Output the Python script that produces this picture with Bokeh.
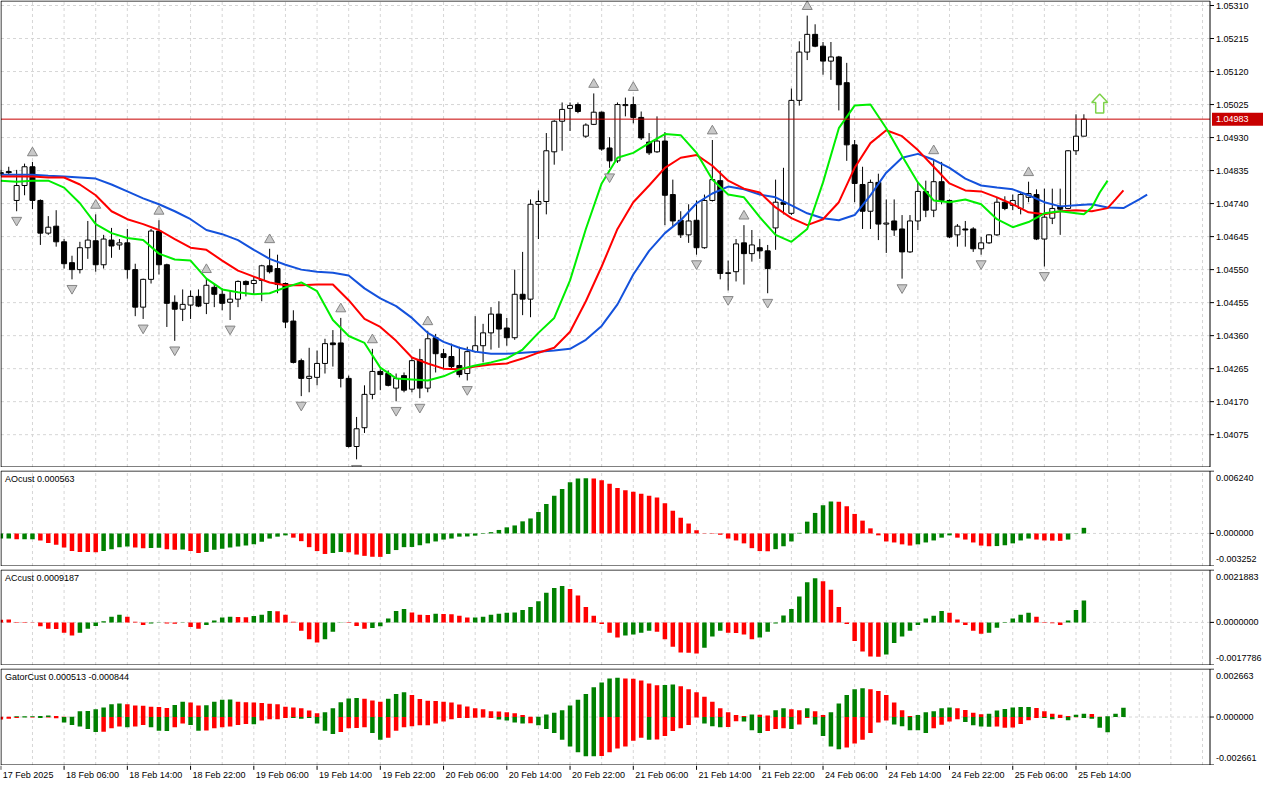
from bokeh.plotting import figure
from bokeh.layouts import column
from bokeh.models import Range1d
from bokeh.embed import file_html
from bokeh.resources import INLINE
from bokeh.core.properties import value

FONT = "Liberation Sans"
FS = "9px"

# ---------------- price data (EURUSD H1, bar 0 = 17 Feb 22:00) ----------------
open_ = [1.04829, 1.04832, 1.04749, 1.04792, 1.04846, 1.04749, 1.04655, 1.04675, 1.04630, 1.04570,
         1.04550, 1.04613, 1.04633, 1.04564, 1.04635, 1.04621, 1.04627, 1.04550, 1.04442, 1.04522,
         1.04661, 1.04564, 1.04456, 1.04436, 1.04448, 1.04473, 1.04453, 1.04499, 1.04479, 1.04456,
         1.04465, 1.04516, 1.04510, 1.04519, 1.04561, 1.04553, 1.04510, 1.04402, 1.04288, 1.04237,
         1.04240, 1.04280, 1.04339, 1.04339, 1.04237, 1.04041, 1.04095, 1.04191, 1.04257, 1.04251,
         1.04209, 1.04245, 1.04206, 1.04291, 1.04209, 1.04354, 1.04308, 1.04300, 1.04274, 1.04251,
         1.04314, 1.04331, 1.04368, 1.04422, 1.04382, 1.04354, 1.04479, 1.04465, 1.04738, 1.04746,
         1.04889, 1.04977, 1.05014, 1.05025, 1.04934, 1.04968, 1.05003, 1.04900, 1.04863, 1.05022,
         1.05025, 1.04988, 1.04917, 1.04889, 1.04920, 1.04766, 1.04692, 1.04650, 1.04692, 1.04613,
         1.04749, 1.04806, 1.04539, 1.04544, 1.04627, 1.04596, 1.04613, 1.04604, 1.04670, 1.04744,
         1.04712, 1.05037, 1.05176, 1.05227, 1.05193, 1.05150, 1.05162, 1.05088, 1.04909, 1.04795,
         1.04718, 1.04801, 1.04681, 1.04690, 1.04667, 1.04601, 1.04690, 1.04775, 1.04721, 1.04803,
         1.04749, 1.04650, 1.04667, 1.04667, 1.04610, 1.04627, 1.04650, 1.04744, 1.04735, 1.04726,
         1.04758, 1.04766, 1.04638, 1.04698, 1.04732, 1.04726, 1.04892, 1.04934]
high = [1.04837, 1.04846, 1.04837, 1.04855, 1.04860, 1.04752, 1.04704, 1.04721, 1.04638, 1.04590,
        1.04630, 1.04690, 1.04709, 1.04650, 1.04670, 1.04638, 1.04667, 1.04567, 1.04524, 1.04667,
        1.04692, 1.04567, 1.04476, 1.04493, 1.04490, 1.04493, 1.04524, 1.04510, 1.04496, 1.04490,
        1.04519, 1.04519, 1.04530, 1.04564, 1.04610, 1.04593, 1.04513, 1.04433, 1.04294, 1.04325,
        1.04317, 1.04351, 1.04376, 1.04411, 1.04245, 1.04126, 1.04217, 1.04322, 1.04263, 1.04260,
        1.04251, 1.04254, 1.04297, 1.04322, 1.04374, 1.04365, 1.04322, 1.04337, 1.04328, 1.04328,
        1.04416, 1.04394, 1.04442, 1.04459, 1.04411, 1.04550, 1.04601, 1.04752, 1.04778, 1.04943,
        1.04980, 1.05031, 1.05031, 1.05031, 1.04971, 1.05057, 1.05005, 1.04931, 1.05031, 1.05045,
        1.05048, 1.05005, 1.04943, 1.04991, 1.04946, 1.04809, 1.04718, 1.04738, 1.04749, 1.04766,
        1.04923, 1.04835, 1.04576, 1.04638, 1.04678, 1.04664, 1.04638, 1.04621, 1.04809, 1.04843,
        1.05071, 1.05207, 1.05281, 1.05256, 1.05205, 1.05205, 1.05165, 1.05145, 1.04923, 1.04846,
        1.04809, 1.04826, 1.04752, 1.04752, 1.04707, 1.04707, 1.04801, 1.04806, 1.04866, 1.04860,
        1.04752, 1.04681, 1.04690, 1.04672, 1.04644, 1.04652, 1.04758, 1.04761, 1.04766, 1.04772,
        1.04803, 1.04781, 1.04783, 1.04783, 1.04783, 1.04894, 1.04997, 1.04997]
low = [1.04820, 1.04823, 1.04718, 1.04764, 1.04724, 1.04621, 1.04650, 1.04616, 1.04553, 1.04522,
       1.04539, 1.04581, 1.04544, 1.04553, 1.04584, 1.04607, 1.04524, 1.04416, 1.04408, 1.04510,
       1.04536, 1.04385, 1.04345, 1.04402, 1.04408, 1.04442, 1.04422, 1.04442, 1.04433, 1.04405,
       1.04442, 1.04473, 1.04479, 1.04459, 1.04539, 1.04482, 1.04382, 1.04280, 1.04186, 1.04197,
       1.04217, 1.04251, 1.04271, 1.04211, 1.04038, 1.04004, 1.04080, 1.04177, 1.04203, 1.04214,
       1.04171, 1.04197, 1.04197, 1.04180, 1.04197, 1.04254, 1.04265, 1.04265, 1.04240, 1.04231,
       1.04311, 1.04283, 1.04320, 1.04325, 1.04331, 1.04348, 1.04419, 1.04413, 1.04638, 1.04709,
       1.04852, 1.04892, 1.04949, 1.05000, 1.04929, 1.04966, 1.04892, 1.04843, 1.04857, 1.04991,
       1.04971, 1.04923, 1.04880, 1.04886, 1.04678, 1.04675, 1.04641, 1.04627, 1.04593, 1.04610,
       1.04746, 1.04522, 1.04490, 1.04516, 1.04507, 1.04573, 1.04581, 1.04482, 1.04607, 1.04709,
       1.04707, 1.05022, 1.05153, 1.05190, 1.05111, 1.05096, 1.05008, 1.04863, 1.04744, 1.04667,
       1.04667, 1.04635, 1.04598, 1.04647, 1.04524, 1.04598, 1.04664, 1.04701, 1.04701, 1.04738,
       1.04641, 1.04616, 1.04616, 1.04601, 1.04593, 1.04624, 1.04647, 1.04721, 1.04721, 1.04709,
       1.04744, 1.04635, 1.04559, 1.04681, 1.04650, 1.04724, 1.04880, 1.04934]
close = [1.04826, 1.04829, 1.04792, 1.04846, 1.04749, 1.04655, 1.04672, 1.04630, 1.04567, 1.04550,
         1.04613, 1.04635, 1.04564, 1.04638, 1.04618, 1.04627, 1.04550, 1.04442, 1.04522, 1.04661,
         1.04564, 1.04453, 1.04436, 1.04450, 1.04473, 1.04445, 1.04505, 1.04479, 1.04453, 1.04465,
         1.04516, 1.04507, 1.04519, 1.04561, 1.04544, 1.04507, 1.04399, 1.04283, 1.04237, 1.04243,
         1.04280, 1.04337, 1.04334, 1.04237, 1.04041, 1.04092, 1.04191, 1.04257, 1.04248, 1.04217,
         1.04237, 1.04203, 1.04288, 1.04209, 1.04351, 1.04308, 1.04297, 1.04271, 1.04248, 1.04314,
         1.04331, 1.04368, 1.04422, 1.04379, 1.04354, 1.04479, 1.04465, 1.04738, 1.04746, 1.04892,
         1.04977, 1.05011, 1.05022, 1.05005, 1.04966, 1.05003, 1.04897, 1.04863, 1.05025, 1.05025,
         1.04988, 1.04929, 1.04886, 1.04920, 1.04764, 1.04690, 1.04650, 1.04690, 1.04613, 1.04749,
         1.04809, 1.04539, 1.04541, 1.04624, 1.04596, 1.04621, 1.04604, 1.04553, 1.04744, 1.04738,
         1.05037, 1.05176, 1.05227, 1.05193, 1.05150, 1.05162, 1.05082, 1.04909, 1.04798, 1.04718,
         1.04801, 1.04681, 1.04684, 1.04664, 1.04601, 1.04690, 1.04775, 1.04721, 1.04803, 1.04749,
         1.04644, 1.04675, 1.04664, 1.04610, 1.04627, 1.04650, 1.04744, 1.04726, 1.04749, 1.04766,
         1.04769, 1.04638, 1.04701, 1.04726, 1.04724, 1.04892, 1.04934, 1.04983]

up_fractals = [4, 12, 20, 26, 34, 43, 47, 54, 75, 80, 90, 94, 102, 118, 130]
down_fractals = [2, 9, 18, 22, 29, 38, 45, 50, 53, 59, 77, 88, 92, 97, 114, 124, 132]

# Alligator (jaw shifted 8, teeth 5, lips 3 bars into the future)
jaw_bars = list(range(0, 145, 2)) + [145]
jaw = [1.04823, 1.04823, 1.04823, 1.04820, 1.04818, 1.04815, 1.04812, 1.04795, 1.04775, 1.04755,
       1.04738, 1.04718, 1.04695, 1.04664, 1.04652, 1.04635, 1.04607, 1.04581, 1.04564, 1.04550,
       1.04544, 1.04541, 1.04533, 1.04496, 1.04467, 1.04445, 1.04411, 1.04368, 1.04342, 1.04325,
       1.04314, 1.04308, 1.04308, 1.04311, 1.04314, 1.04317, 1.04322, 1.04348, 1.04388, 1.04450,
       1.04536, 1.04604, 1.04655, 1.04692, 1.04741, 1.04769, 1.04789, 1.04781, 1.04766, 1.04758,
       1.04735, 1.04712, 1.04698, 1.04692, 1.04707, 1.04764, 1.04829, 1.04872, 1.04883, 1.04866,
       1.04843, 1.04812, 1.04792, 1.04786, 1.04781, 1.04764, 1.04744, 1.04732, 1.04735, 1.04738,
       1.04729, 1.04727, 1.04752, 1.04766]
teeth_bars = list(range(0, 141, 2)) + [141, 142]
teeth = [1.04818, 1.04818, 1.04818, 1.04815, 1.04815, 1.04795, 1.04764, 1.04718, 1.04695, 1.04681,
         1.04664, 1.04638, 1.04613, 1.04607, 1.04576, 1.04547, 1.04530, 1.04513, 1.04505, 1.04505,
         1.04507, 1.04507, 1.04462, 1.04408, 1.04385, 1.04345, 1.04297, 1.04280, 1.04265, 1.04263,
         1.04271, 1.04277, 1.04280, 1.04294, 1.04311, 1.04325, 1.04371, 1.04459, 1.04559, 1.04667,
         1.04744, 1.04792, 1.04843, 1.04872, 1.04880, 1.04849, 1.04806, 1.04783, 1.04772, 1.04729,
         1.04698, 1.04678, 1.04695, 1.04744, 1.04843, 1.04914, 1.04951, 1.04934, 1.04894, 1.04846,
         1.04798, 1.04778, 1.04775, 1.04758, 1.04738, 1.04715, 1.04709, 1.04718, 1.04721, 1.04718,
         1.04727, 1.04752, 1.04778]
lips_bars = list(range(0, 137, 2)) + [137, 138, 139, 140]
lips = [1.04806, 1.04803, 1.04806, 1.04806, 1.04786, 1.04741, 1.04681, 1.04655, 1.04641, 1.04635,
        1.04596, 1.04579, 1.04576, 1.04524, 1.04493, 1.04485, 1.04479, 1.04482, 1.04499, 1.04513,
        1.04488, 1.04405, 1.04359, 1.04339, 1.04268, 1.04237, 1.04234, 1.04231, 1.04243, 1.04263,
        1.04274, 1.04283, 1.04294, 1.04320, 1.04368, 1.04411, 1.04519, 1.04667, 1.04798, 1.04872,
        1.04886, 1.04914, 1.04940, 1.04937, 1.04886, 1.04809, 1.04766, 1.04758, 1.04701, 1.04650,
        1.04630, 1.04667, 1.04801, 1.04957, 1.05022, 1.05025, 1.04957, 1.04877, 1.04801, 1.04749,
        1.04744, 1.04752, 1.04738, 1.04695, 1.04672, 1.04687, 1.04712, 1.04718, 1.04712,
        1.04709, 1.04729, 1.04772, 1.04806]

current_price = 1.04983
signal_bar = 139
signal_price = 1.05028

price_ticks = [1.05310, 1.05215, 1.05120, 1.05025, 1.04930, 1.04835, 1.04740,
               1.04645, 1.04550, 1.04455, 1.04360, 1.04265, 1.04170, 1.04075]
price_range = (1.03982, 1.05323)

# ---------------- oscillators ----------------
ao = [-0.00051, -0.00051, -0.00058, -0.00058, -0.00058, -0.00070, -0.00096, -0.00112, -0.00141, -0.00176,
      -0.00185, -0.00186, -0.00187, -0.00176, -0.00157, -0.00137, -0.00131, -0.00141, -0.00147, -0.00146,
      -0.00144, -0.00157, -0.00163, -0.00160, -0.00176, -0.00195, -0.00185, -0.00163, -0.00153, -0.00141,
      -0.00131, -0.00121, -0.00109, -0.00083, -0.00051, -0.00032, -0.00019, -0.00042, -0.00077, -0.00137,
      -0.00176, -0.00205, -0.00195, -0.00185, -0.00188, -0.00211, -0.00224, -0.00233, -0.00234, -0.00205,
      -0.00166, -0.00137, -0.00135, -0.00118, -0.00099, -0.00080, -0.00061, -0.00051, -0.00032, -0.00030,
      -0.00022, -0.00005, 0.00013, 0.00035, 0.00061, 0.00080, 0.00121, 0.00150, 0.00214, 0.00294,
      0.00377, 0.00444, 0.00512, 0.00550, 0.00551, 0.00549, 0.00531, 0.00496, 0.00454, 0.00432,
      0.00416, 0.00396, 0.00377, 0.00358, 0.00301, 0.00227, 0.00157, 0.00099, 0.00032, -0.00003,
      -0.00004, -0.00013, -0.00051, -0.00070, -0.00099, -0.00147, -0.00176, -0.00178, -0.00157, -0.00128,
      -0.00080, 0.00006, 0.00118, 0.00205, 0.00281, 0.00320, 0.00318, 0.00272, 0.00195, 0.00128,
      0.00051, -0.00019, -0.00080, -0.00090, -0.00109, -0.00121, -0.00109, -0.00090, -0.00070, -0.00042,
      -0.00019, -0.00042, -0.00061, -0.00090, -0.00121, -0.00128, -0.00126, -0.00118, -0.00099, -0.00070,
      -0.00051, -0.00061, -0.00070, -0.00072, -0.00074, -0.00061, -0.00003, 0.000563]
ao_colors = ("ggrggrrrrr" "rrrggggrrg" "grrgrrgggg" "gggggggrrr" "rrggrrrrrg" "gggggggggg"
             "gggggggggg" "gggggrrrrr" "rrrrrrrrrr" "rrrrrrrrgg" "ggggggrrrr" "rrrrrrgggg"
             "grrrrrgggg" "grrrrggg")
ao_range = (-0.003252, 0.006240)

ac = [0.00011, 0.00012, -0.00003, -0.00003, -0.00001, -0.00016, -0.00027, -0.00028, -0.00043, -0.00055,
      -0.00043, -0.00027, -0.00015, 0.00005, 0.00024, 0.00032, 0.00024, 0.00003, -0.00011, -0.00005,
      -0.00001, -0.00005, -0.00006, -0.00001, -0.00019, -0.00027, -0.00011, 0.00008, 0.00021, 0.00024,
      0.00023, 0.00022, 0.00027, 0.00032, 0.00048, 0.00047, 0.00032, 0.00003, -0.00035, -0.00070,
      -0.00084, -0.00070, -0.00039, -0.00001, -0.00003, -0.00015, -0.00027, -0.00023, -0.00016, 0.00016,
      0.00048, 0.00056, 0.00041, 0.00032, 0.00031, 0.00036, 0.00035, 0.00034, 0.00028, 0.00020,
      0.00021, 0.00024, 0.00032, 0.00036, 0.00040, 0.00041, 0.00052, 0.00064, 0.00088, 0.00124,
      0.00144, 0.00152, 0.00140, 0.00112, 0.00064, 0.00028, -0.00007, -0.00043, -0.00063, -0.00055,
      -0.00051, -0.00043, -0.00035, -0.00039, -0.00070, -0.00102, -0.00126, -0.00127, -0.00130, -0.00106,
      -0.00059, -0.00035, -0.00043, -0.00044, -0.00051, -0.00070, -0.00063, -0.00039, -0.00005, 0.00029,
      0.00056, 0.00108, 0.00168, 0.00184, 0.00172, 0.00136, 0.00064, -0.00007, -0.00078, -0.00122,
      -0.00142, -0.00143, -0.00134, -0.00086, -0.00059, -0.00035, -0.00011, 0.00016, 0.00028, 0.00048,
      0.00040, 0.00012, -0.00011, -0.00035, -0.00047, -0.00043, -0.00022, -0.00003, 0.00016, 0.00032,
      0.00040, 0.00024, -0.00003, -0.00004, -0.00011, 0.00008, 0.00052, 0.0009187]
ac_colors = ("rrrrrrrrrr" "ggggggrrrg" "grrgrrgggg" "rrgggrrrrr" "rgggrrrggg" "ggrrrgrrrr"
             "gggggggggg" "ggrrrrrrrg" "gggrrrrrrg" "ggrrrrgggg" "ggggrrrrrr" "rrgggggggg"
             "rrrrrggggg" "grrrrggg")
ac_range = (-0.0017786, 0.0021883)

gator_up = [0.00002, 0.00002, 0.00004, 0.00004, 0.00004, 0.00005, 0.00009, 0.00005, 0.00001, 0.00001,
            0.00032, 0.00034, 0.00043, 0.00053, 0.00071, 0.00075, 0.00071, 0.00064, 0.00063, 0.00057,
            0.00056, 0.00050, 0.00067, 0.00085, 0.00080, 0.00064, 0.00065, 0.00085, 0.00096, 0.00097,
            0.00085, 0.00082, 0.00080, 0.00078, 0.00073, 0.00071, 0.00057, 0.00053, 0.00048, 0.00036,
            0.00021, 0.00027, 0.00048, 0.00082, 0.00103, 0.00105, 0.00101, 0.00091, 0.00085, 0.00101,
            0.00128, 0.00138, 0.00122, 0.00100, 0.00090, 0.00089, 0.00085, 0.00080, 0.00069, 0.00059,
            0.00048, 0.00043, 0.00032, 0.00031, 0.00027, 0.00021, 0.00011, 0.00001, 0.00001, 0.00014,
            0.00023, 0.00037, 0.00064, 0.00096, 0.00128, 0.00165, 0.00192, 0.00213, 0.00218, 0.00213,
            0.00212, 0.00202, 0.00186, 0.00176, 0.00177, 0.00181, 0.00170, 0.00154, 0.00138, 0.00112,
            0.00085, 0.00048, 0.00027, 0.00011, 0.00005, 0.00014, 0.00013, 0.00009, 0.00037, 0.00048,
            0.00043, 0.00037, 0.00048, 0.00032, 0.00011, 0.00027, 0.00075, 0.00122, 0.00154, 0.00160,
            0.00154, 0.00144, 0.00122, 0.00080, 0.00037, 0.00005, 0.00011, 0.00027, 0.00032, 0.00048,
            0.00053, 0.00048, 0.00039, 0.00023, 0.00016, 0.00018, 0.00036, 0.00044, 0.00053, 0.00055,
            0.00056, 0.00050, 0.00032, 0.00018, 0.00012, 0.00005, 0.00012, 0.00018, 0.00017, 0.00001,
            0.00004, 0.00018, 0.000513]
gator_up_colors = ("rrgggggrrg" "ggggggrrrr" "rrggrrgggg" "rrrrrrrrrr" "rgggggrrrg" "ggrrrrrrrr"
                   "rrrrrrrrgg" "gggggggggr" "rrrrggrrrr" "rrrrrgrrgg" "rrgrrggggg" "rrrrrrgggg"
                   "grrrrggggg" "grrrrrggrr" "ggg")
gator_dn = [-0.00014, -0.00009, -0.00005, -0.00002, -0.00002, -0.00005, -0.00002, -0.00007, -0.00030, -0.00044,
            -0.00053, -0.00066, -0.00083, -0.00082, -0.00062, -0.00053, -0.00057, -0.00053, -0.00044, -0.00057,
            -0.00076, -0.00077, -0.00057, -0.00036, -0.00044, -0.00076, -0.00075, -0.00062, -0.00057, -0.00053,
            -0.00044, -0.00039, -0.00040, -0.00020, -0.00012, -0.00012, -0.00005, -0.00006, -0.00009, -0.00005,
            -0.00036, -0.00076, -0.00094, -0.00083, -0.00062, -0.00061, -0.00057, -0.00089, -0.00126, -0.00115,
            -0.00076, -0.00057, -0.00051, -0.00046, -0.00045, -0.00036, -0.00025, -0.00012, -0.00005, -0.00005,
            -0.00004, -0.00002, -0.00005, -0.00014, -0.00020, -0.00030, -0.00036, -0.00035, -0.00046, -0.00067,
            -0.00089, -0.00126, -0.00163, -0.00195, -0.00217, -0.00218, -0.00216, -0.00195, -0.00174, -0.00163,
            -0.00131, -0.00115, -0.00126, -0.00125, -0.00105, -0.00078, -0.00062, -0.00044, -0.00002, -0.00036,
            -0.00051, -0.00057, -0.00056, -0.00023, -0.00025, -0.00073, -0.00089, -0.00078, -0.00067, -0.00062,
            -0.00067, -0.00041, -0.00005, -0.00041, -0.00105, -0.00163, -0.00179, -0.00169, -0.00147, -0.00126,
            -0.00089, -0.00030, -0.00020, -0.00041, -0.00051, -0.00073, -0.00074, -0.00089, -0.00062, -0.00043,
            -0.00025, -0.00012, -0.00027, -0.00046, -0.00053, -0.00054, -0.00053, -0.00059, -0.00058, -0.00039,
            -0.00018, -0.00005, -0.00006, -0.00012, -0.00005, -0.00018, -0.00001, -0.00005, -0.00009, -0.00059,
            -0.000844]
gator_dn_colors = ("rrrgrgrrgg" "gggrrrgrrg" "ggrrggrrrr" "rrgrrrrggg" "gggrrrrggr" "rrrrrrrrrr"
                   "rrrggggrgg" "ggggggrrrr" "rrgrrrrrrg" "ggrrgggrrr" "grrggggrrr" "rrrgggggrr"
                   "rrggggrrrr" "rrggrgrggg" "g")
gator_range = (-0.002661, 0.002663)

time_bars = list(range(0, 137, 8))
time_labels = ["17 Feb 2025", "18 Feb 06:00", "18 Feb 14:00", "18 Feb 22:00", "19 Feb 06:00",
               "19 Feb 14:00", "19 Feb 22:00", "20 Feb 06:00", "20 Feb 14:00", "20 Feb 22:00",
               "21 Feb 06:00", "21 Feb 14:00", "21 Feb 22:00", "24 Feb 06:00", "24 Feb 14:00",
               "24 Feb 22:00", "25 Feb 06:00", "25 Feb 14:00"]

# ---------------- geometry / styling ----------------
FRAME_W = 1264          # whole strip incl. price scale
AXIS_W = 54             # price-scale area on the right
CW = FRAME_W - AXIS_W   # chart area width in px
X0, X1 = 0.02, 152.95   # chart left / right edge in bar units
BPP = (X1 - X0) / (CW - 1)
XR = (X0 - 0.5 * BPP, X0 - 0.5 * BPP + FRAME_W * BPP)
MAIN_H, SUB_H, GAT_H = 467, 96, 97
GRID_COLOR = "#d6d6d6"
GRID_DASH = "3 3"
GREEN, RED = "#008000", "#ff0000"
CMAP = {"g": GREEN, "r": RED}
vgrid = list(range(4, 153, 4))


def panel(frame_h, vmin, vmax, top_border, hgrid):
    ypp = (vmax - vmin) / (frame_h - 1)
    p = figure(frame_width=FRAME_W, frame_height=frame_h,
               x_range=Range1d(*XR), y_range=Range1d(vmin - 0.5 * ypp, vmax + 0.5 * ypp),
               x_axis_location=None, y_axis_location=None,
               output_backend="svg", toolbar_location=None,
               min_border_left=0, min_border_right=0, min_border_top=top_border,
               min_border_bottom=0)
    p.outline_line_color = None
    p.grid.visible = False
    p.background_fill_color = "white"
    p.border_fill_color = "white"
    p.segment(x0=vgrid, y0=vmin, x1=vgrid, y1=vmax, line_color=GRID_COLOR,
              line_dash=GRID_DASH, line_width=1)
    p.segment(x0=X0, y0=hgrid, x1=X1, y1=hgrid, line_color=GRID_COLOR,
              line_dash=GRID_DASH, line_width=1)
    return p, ypp


def frame_box(p, vmin, vmax):
    p.quad(left=[X0], right=[X1], bottom=[vmin], top=[vmax], fill_color=None,
           line_color="black", line_width=1)


def scale_labels(p, ticks, texts, offsets):
    p.segment(x0=X1, y0=ticks, x1=X1 + 4 * BPP, y1=ticks, line_color="black", line_width=1)
    for t, s, o in zip(ticks, texts, offsets):
        p.text(x=[X1], y=[t], text=[s], x_offset=6, y_offset=o, text_align="left",
               text_baseline="middle", text_font=value(FONT), text_font_size=FS,
               text_color="black")


# ---------------- main price panel ----------------
pm, ypp_m = panel(MAIN_H, price_range[0], price_range[1], 0, price_ticks)

bars = list(range(len(close)))
inc = [i for i in bars if close[i] >= open_[i]]
dec = [i for i in bars if close[i] < open_[i]]
body_w = 5 * BPP
pm.segment(x0=bars, y0=low, x1=bars, y1=high, line_color="black", line_width=1)
pm.vbar(x=inc, width=body_w, top=[close[i] for i in inc], bottom=[open_[i] for i in inc],
        fill_color="white", line_color="black", line_width=1)
pm.vbar(x=dec, width=body_w, top=[open_[i] for i in dec], bottom=[close[i] for i in dec],
        fill_color="black", line_color="black", line_width=1)

pm.line(jaw_bars, jaw, line_color="#1452dc", line_width=2)
pm.line(teeth_bars, teeth, line_color="#ff0000", line_width=2)
pm.line(lips_bars, lips, line_color="#00ee00", line_width=2)

off = 9 * ypp_m
pm.scatter(x=up_fractals, y=[high[i] + off for i in up_fractals], marker="triangle", size=10,
           fill_color="#c8c8c8", line_color="#858585", line_width=1)
pm.scatter(x=down_fractals, y=[low[i] - off for i in down_fractals], marker="inverted_triangle",
           size=10, fill_color="#c8c8c8", line_color="#858585", line_width=1)

# current price line and its tag on the price scale
pm.segment(x0=[X0], y0=[current_price], x1=[X1], y1=[current_price], line_color="#c80000",
           line_width=1)

arrow_px = [(0, 9.5), (8, 1), (4, 1), (4, -9.5), (-4, -9.5), (-4, 1), (-8, 1)]
pm.patch([signal_bar + dx * BPP for dx, dy in arrow_px],
         [signal_price + dy * ypp_m for dx, dy in arrow_px],
         fill_color="white", line_color="#7ed24a", line_width=1.5)

frame_box(pm, *price_range)
scale_labels(pm, price_ticks, [f"{t:.5f}" for t in price_ticks], [0] * len(price_ticks))
pm.quad(left=[X1 + 2 * BPP], right=[X1 + (AXIS_W - 1) * BPP],
        bottom=[current_price - 6.5 * ypp_m], top=[current_price + 6.5 * ypp_m],
        fill_color="#c80000", line_color=None)
pm.text(x=[X1], y=[current_price], text=[f"{current_price:.5f}"], x_offset=6, text_align="left",
        text_baseline="middle", text_font=value(FONT), text_font_size=FS, text_color="white")


# ---------------- oscillator panels ----------------
def osc_panel(frame_h, yr, labels, title, series):
    lo, hi = yr
    p, ypp = panel(frame_h, lo, hi, 3, [0.0])
    for vals, cols in series:
        xs = list(range(len(vals)))
        p.vbar(x=xs, width=4.5 * BPP, top=vals, bottom=0,
               fill_color=[CMAP[c] for _, c in zip(vals, cols)], line_color=None)
    frame_box(p, lo, hi)
    scale_labels(p, [hi, 0.0, lo], labels, [7, 0, -7])
    p.text(x=[X0], y=[hi], text=[title], x_offset=4, y_offset=3, text_align="left",
           text_baseline="top", text_font=value(FONT), text_font_size=FS, text_color="black")
    return p


pa = osc_panel(SUB_H, ao_range,
               [f"{ao_range[1]:.6f}", "0.000000", f"{ao_range[0]:.6f}"],
               f"AOcust {ao[-1]:.6f}", [(ao, ao_colors)])
pc = osc_panel(SUB_H, ac_range,
               [f"{ac_range[1]:.7f}", "0.0000000", f"{ac_range[0]:.7f}"],
               f"ACcust {ac[-1]:.7f}", [(ac, ac_colors)])
pg = osc_panel(GAT_H, gator_range,
               [f"{gator_range[1]:.6f}", "0.000000", f"{gator_range[0]:.6f}"],
               f"GatorCust {gator_up[-1]:.6f} {gator_dn[-1]:.6f}",
               [(gator_up, gator_up_colors), (gator_dn, gator_dn_colors)])

# ---------------- time scale ----------------
ps = figure(frame_width=FRAME_W, frame_height=18, x_range=Range1d(*XR), y_range=Range1d(0, 1),
            x_axis_location=None, y_axis_location=None, output_backend="svg",
            toolbar_location=None, min_border_left=0, min_border_right=0,
            min_border_top=0, min_border_bottom=0)
ps.outline_line_color = None
ps.grid.visible = False
ps.background_fill_color = "white"
ps.border_fill_color = "white"
n = len(time_bars)
ps.segment(x0=time_bars, y0=[1.0] * n, x1=time_bars, y1=[0.76] * n, line_color="black", line_width=1)
ps.text(x=time_bars, y=[0.45] * n, text=time_labels, x_offset=2, text_align="left",
        text_baseline="middle", text_font=value(FONT), text_font_size=FS, text_color="black")

layout = column(pm, pa, pc, pg, ps)
open("out.html", "w").write(file_html(layout, INLINE, "EURUSD H1"))
